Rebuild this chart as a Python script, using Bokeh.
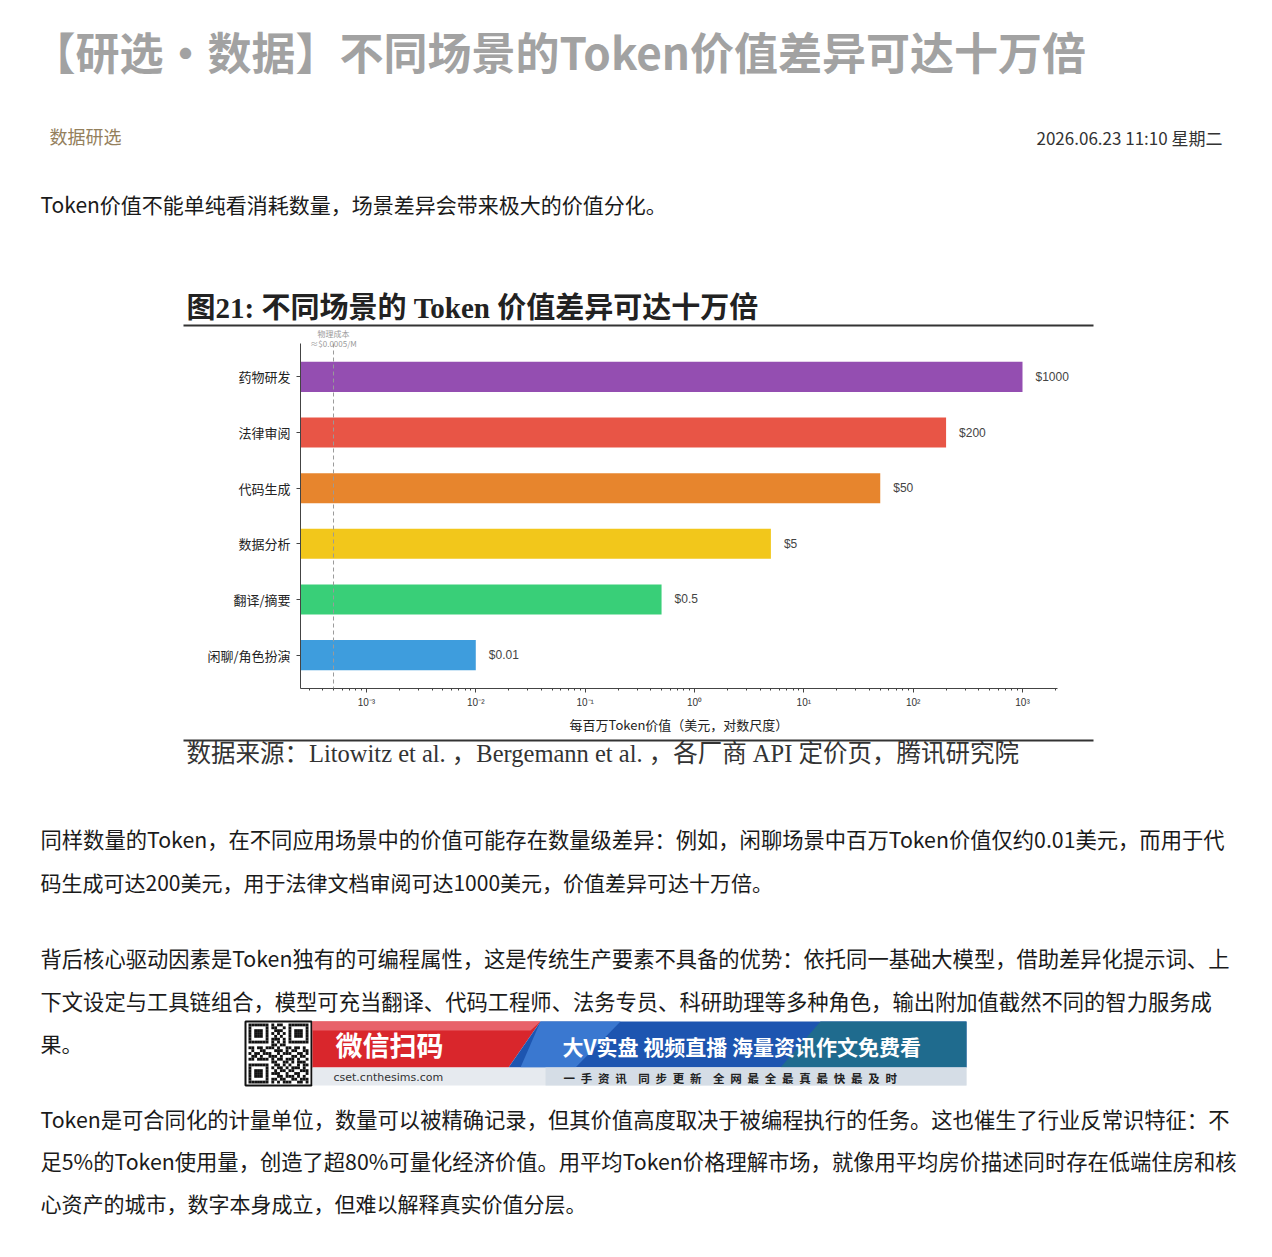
from bokeh.plotting import figure
from bokeh.models import (Range1d, FixedTicker, Span, ColumnDataSource, LinearScale)
from bokeh.embed import file_html
from bokeh.resources import INLINE
from bokeh.core.properties import value

# ---------------- data ----------------
categories = ["药物研发", "法律审阅", "代码生成", "数据分析", "翻译/摘要", "闲聊/角色扮演"]
values = [1000, 200, 50, 5, 0.5, 0.01]
value_labels = ["$1000", "$200", "$50", "$5", "$0.5", "$0.01"]
bar_colors = ["#8e44ad", "#e74c3c", "#e67e22", "#f1c40f", "#2ecc71", "#3498db"]
x_ticks = [1e-3, 1e-2, 1e-1, 1e0, 1e1, 1e2, 1e3]
x_tick_labels = ["10⁻³", "10⁻²", "10⁻¹", "10⁰", "10¹", "10²", "10³"]
physical_cost = 0.0005
physical_cost_label = ["物理成本", "≈$0.0005/M"]
x_axis_label = "每百万Token价值（美元，对数尺度）"

page_title = "【研选•数据】不同场景的Token价值差异可达十万倍"
column_name = "数据研选"
date_text = "2026.06.23 11:10 星期二"
intro = "Token价值不能单纯看消耗数量，场景差异会带来极大的价值分化。"
chart_title = "图21:  不同场景的 Token 价值差异可达十万倍"
source_text = "数据来源：Litowitz et al. ，Bergemann  et al. ，各厂商 API 定价页，腾讯研究院"
para2 = ["同样数量的Token，在不同应用场景中的价值可能存在数量级差异：例如，闲聊场景中百万Token价值仅约0.01美元，而用于代",
         "码生成可达200美元，用于法律文档审阅可达1000美元，价值差异可达十万倍。"]
para3 = ["背后核心驱动因素是Token独有的可编程属性，这是传统生产要素不具备的优势：依托同一基础大模型，借助差异化提示词、上",
         "下文设定与工具链组合，模型可充当翻译、代码工程师、法务专员、科研助理等多种角色，输出附加值截然不同的智力服务成",
         "果。"]
para4 = ["Token是可合同化的计量单位，数量可以被精确记录，但其价值高度取决于被编程执行的任务。这也催生了行业反常识特征：不",
         "足5%的Token使用量，创造了超80%可量化经济价值。用平均Token价格理解市场，就像用平均房价描述同时存在低端住房和核",
         "心资产的城市，数字本身成立，但难以解释真实价值分层。"]
banner_big = "微信扫码"
banner_slogan = "大V实盘 视频直播 海量资讯作文免费看"
banner_url = "cset.cnthesims.com"
banner_small = "\u3000".join("\u2002".join(g) for g in ["一手资讯", "同步更新", "全网最全最真最快最及时"])

W, H = 1268, 1254
CJK = "Noto Sans CJK SC"
SERIF = "Liberation Serif, Noto Sans CJK SC"

# frame of the chart, in page pixels
FL, FR, FT, FB = 300, 1057, 343, 688

n = len(categories)
ypos = [n - 1 - i for i in range(n)]  # first category on top

x_start = 10 ** (-3.603)
x_end = 10 ** (3.32)
p = figure(width=W, height=H, x_axis_type="log", x_range=Range1d(x_start, x_end),
           y_range=Range1d(-0.6, n - 0.4),
           output_backend="svg", toolbar_location=None, title=None,
           min_border_left=FL, min_border_right=W - FR,
           min_border_top=FT, min_border_bottom=H - FB)
p.grid.visible = False
p.outline_line_color = None
p.background_fill_color = "white"
p.border_fill_color = "white"

# page-pixel coordinate system (linear), anchored to the frame
p.extra_x_ranges = {"px": Range1d(FL, FR)}
p.extra_y_ranges = {"py": Range1d(FB, FT)}
p.extra_x_scales = {"px": LinearScale()}
p.extra_y_scales = {"py": LinearScale()}
PG = dict(x_range_name="px", y_range_name="py", level="overlay")


def txt(x, y, s, size, color, font=CJK, style="normal", align="left"):
    p.text(x=[x], y=[y], text=[s], text_font_size=f"{size}px", text_color=color,
           text_font=value(font), text_font_style=style, text_align=align,
           text_baseline="middle", **PG)


# ---------------- chart ----------------
src = ColumnDataSource(dict(cat=categories, pos=ypos, val=values, color=bar_colors, lab=value_labels))
p.hbar(y="pos", left=x_start, right="val", height=0.54, fill_color="color", fill_alpha=0.95,
       line_color=None, source=src)

p.add_layout(Span(location=physical_cost, dimension="height", line_color="#9a9a9a",
                  line_dash="4 3", line_width=1))
p.text(x=[physical_cost, physical_cost], y=[333, 343], text=physical_cost_label,
       text_align="center", text_baseline="middle", text_font_size="8px", text_color="#9a9a9a",
       text_font=value(CJK), y_range_name="py", level="overlay")

p.text(x="val", y="pos", text="lab", x_offset=13, text_baseline="middle",
       text_font_size="12px", text_color="#444444", text_font=value("Liberation Sans"),
       source=src, level="overlay")

minor = [m * 10.0 ** k for k in range(-4, 4) for m in range(2, 10)]
p.xaxis.ticker = FixedTicker(ticks=x_ticks, minor_ticks=minor)
p.xaxis.major_label_overrides = {t: l for t, l in zip(x_ticks, x_tick_labels)}
p.xaxis.major_label_text_font = "Liberation Sans"
p.xaxis.major_label_text_font_size = "10px"
p.xaxis.major_label_text_color = "#333333"
p.xaxis.major_label_standoff = 4
p.xaxis.major_tick_out = 4
p.xaxis.major_tick_in = 0
p.xaxis.minor_tick_out = 2
p.xaxis.minor_tick_in = 0
p.xaxis.axis_label = x_axis_label
p.xaxis.axis_label_text_font = CJK
p.xaxis.axis_label_text_font_style = "normal"
p.xaxis.axis_label_text_font_size = "13px"
p.xaxis.axis_label_text_color = "#222222"
p.xaxis.axis_label_standoff = 4

p.yaxis.ticker = FixedTicker(ticks=ypos, minor_ticks=[])
p.yaxis.major_label_overrides = {y: c for y, c in zip(ypos, categories)}
p.yaxis.major_label_text_font = CJK
p.yaxis.major_label_text_font_size = "13px"
p.yaxis.major_label_text_color = "#222222"
p.yaxis.major_label_standoff = 6
p.yaxis.major_tick_out = 4
p.yaxis.major_tick_in = 0
p.yaxis.minor_tick_out = 0
p.yaxis.minor_tick_in = 0
for ax in (p.xaxis, p.yaxis):
    ax.axis_line_color = "#444444"
    ax.major_tick_line_color = "#444444"
    ax.minor_tick_line_color = "#444444"

# ---------------- page texts ----------------
txt(31, 50, page_title, 44, "#a2a2a2", style="bold")
txt(49, 135, column_name, 18, "#94805c")
txt(1222, 137, date_text, 17, "#333333", align="right")
txt(40, 203, intro, 21, "#1a1a1a")
txt(186, 307, chart_title, 29, "#222222", font=SERIF, style="bold")
p.segment(x0=[183, 183], y0=[325, 740], x1=[1093, 1093], y1=[325, 740], line_width=2,
          line_color="#333333", **PG)
txt(186, 753, source_text, 24.5, "#333333", font=SERIF)


def paragraph(lines, y0, step):
    for i, line in enumerate(lines):
        size = 21.3 if i < len(lines) - 1 else 21
        txt(40, y0 + i * step, line, size, "#1a1a1a")


paragraph(para2, 838, 43)
paragraph(para3, 957, 42.5)
paragraph(para4, 1118, 42)

# ---------------- banner (decorative advert) ----------------
p.quad(left=[245], right=[311], top=[1021], bottom=[1085], fill_color="white",
       line_color="#111111", line_width=2, **PG)
qr = ["111111101011001111111", "100000101100101000001", "101110100111001011101",
      "101110101010101011101", "101110100101001011101", "100000101110101000001",
      "111111101010101111111", "000000001101100000000", "110110111010011011010",
      "010011000111010110011", "101101110010111001101", "011010011101000110110",
      "110111101011011101001", "000000001100110101110", "111111100110101001011",
      "100000101011010111010", "101110100101101100111", "101110101110010011001",
      "101110100011011101010", "100000101101100110111", "111111101010111001101"]
ms = 60 / 21.0
ql, qr_, qt, qb = [], [], [], []
for r, row in enumerate(qr):
    for c, ch in enumerate(row[:21]):
        if ch == "1":
            ql.append(248 + c * ms); qr_.append(248 + (c + 1) * ms)
            qt.append(1023 + r * ms); qb.append(1023 + (r + 1) * ms)
p.quad(left=ql, right=qr_, top=qt, bottom=qb, fill_color="#111111", line_color=None, **PG)

p.patch(x=[312, 540, 508, 312], y=[1021, 1021, 1067, 1067], fill_color="#d9262c", line_color=None, **PG)
p.patch(x=[312, 540, 530, 312], y=[1021, 1021, 1030, 1030], fill_color="#e8626a", line_color=None, **PG)
p.patch(x=[540, 966, 966, 508], y=[1021, 1021, 1067, 1067], fill_color="#1d55b0", line_color=None, **PG)
p.patch(x=[540, 620, 575, 520], y=[1021, 1021, 1067, 1067], fill_color="#3a78d0", line_color=None, **PG)
p.patch(x=[820, 966, 966, 780], y=[1021, 1021, 1067, 1067], fill_color="#1f6b8e", line_color=None, **PG)
p.quad(left=[312], right=[966], top=[1067], bottom=[1085], fill_color="#e6eaef", line_color=None, **PG)
p.quad(left=[545], right=[966], top=[1067], bottom=[1085], fill_color="#d5dde6", line_color=None, **PG)
txt(335, 1044, banner_big, 27, "white", style="bold")
txt(562, 1045, banner_slogan, 21, "white", style="bold")
txt(333, 1077, banner_url, 11, "#333333", font="DejaVu Sans")
txt(563, 1077, banner_small, 11.5, "#222222", style="bold")

open("out.html", "w").write(file_html(p, INLINE))
